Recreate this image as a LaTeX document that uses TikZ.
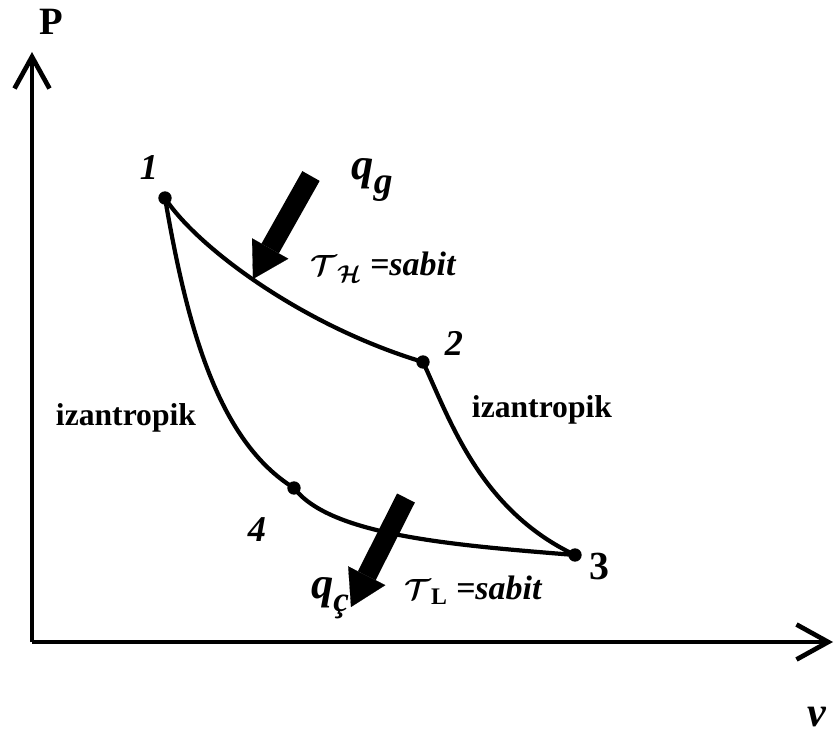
\documentclass[tikz,border=0pt]{standalone}
\usepackage{amsmath}
\usepackage{fontspec}
\setmainfont{Liberation Serif}
\usetikzlibrary{arrows.meta}

\begin{document}
\begin{tikzpicture}[
    x=0.03cm, y=-0.03cm,
    axis/.style={line width=4.2pt, -{Straight Barb[length=0.95cm, width=1.05cm, line width=4pt]}},
    curve/.style={line width=3.6pt},
    state/.style={circle, fill, inner sep=0pt, minimum size=0.4cm},
    num/.style={font=\fontsize{31}{31}\selectfont\bfseries\itshape},
    lbl/.style={font=\fontsize{27}{27}\selectfont\bfseries},
    heat/.style={line width=17pt, -{Triangle[length=1.05cm, width=1.25cm, line width=0.1pt]}},
    heatlbl/.style={font=\fontsize{38}{38}\selectfont\bfseries\itshape},
    sabit/.style={font=\fontsize{29}{29}\selectfont\bfseries\itshape}
]
    \useasboundingbox (0,0) rectangle (835,740);

    \coordinate (O) at (32,642);
    \coordinate (ytop) at (32,52);
    \coordinate (xend) at (833,642);
    \draw[axis] (O) -- (ytop);
    \draw[axis] (O) -- (xend);
    \node[font=\fontsize{33}{33}\selectfont\bfseries] (P) at (51,22) {P};
    \node[font=\fontsize{36}{36}\selectfont\bfseries\itshape] (nu) at (817,717) {ν};

    \node[state] (s1) at (165,198) {};
    \node[state] (s2) at (423,362) {};
    \node[state] (s3) at (575,555) {};
    \node[state] (s4) at (294,488) {};

    \draw[curve] (s1.center) .. controls (195,245) and (300,325) .. (s2.center);
    \draw[curve] (s2.center) .. controls (450,420) and (480,510) .. (s3.center);
    \draw[curve] (s4.center) .. controls (330,535) and (450,545) .. (s3.center);
    \draw[curve] (s1.center) .. controls (186,320) and (216,440) .. (s4.center);

    \node[num] (n1) at (149,168) {1};
    \node[num] (n2) at (454,343) {2};
    \node[font=\fontsize{34}{34}\selectfont\bfseries] (n3) at (599,567) {3};
    \node[num] (n4) at (257,530) {4};

    \node[lbl] (izl) at (126,418) {izantropik};
    \node[lbl] (izr) at (542,410) {izantropik};

    \coordinate (qgtail) at (311,176);
    \coordinate (qgtip) at (253,279);
    \draw[heat] (qgtail) -- (qgtip);
    \node[heatlbl] (qg) at (372,180) {q\raisebox{-0.3em}{\fontsize{32}{32}\selectfont g}};
    \node[sabit] (TH) at (383,267) {$\boldsymbol{\mathcal{T}}_{\boldsymbol{\mathcal{H}}}$ =sabit};

    \coordinate (qctail) at (406,498);
    \coordinate (qctip) at (351,607);
    \draw[heat] (qctail) -- (qctip);
    \node[heatlbl] (qc) at (330,598) {q\raisebox{-0.3em}{\fontsize{30}{30}\selectfont ç}};
    \node[sabit] (TL) at (473,590) {$\boldsymbol{\mathcal{T}}_{\mathbf{L}}$ =sabit};
\end{tikzpicture}
\end{document}
